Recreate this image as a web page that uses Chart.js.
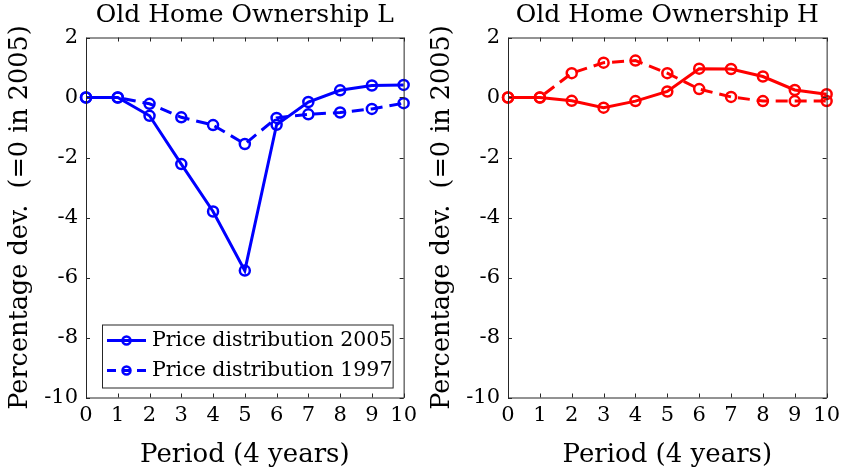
<!DOCTYPE html>
<html>
<head>
<meta charset="utf-8">
<script src="https://cdn.jsdelivr.net/npm/chart.js@4/dist/chart.umd.min.js"></script>
<style>
    html, body { margin: 0; padding: 0; background: #fff; }
    .panel { position: absolute; top: 0; height: 472px; }
    #left { left: 0; width: 422px; }
    #right { left: 422px; width: 423px; }
</style>
</head>
<body>
<div class="panel" id="left"><canvas id="chartL"></canvas></div>
<div class="panel" id="right"><canvas id="chartH"></canvas></div>
<script>
// ---------------------------------------------------------------------------
// data
// ---------------------------------------------------------------------------
const periods = ['0', '1', '2', '3', '4', '5', '6', '7', '8', '9', '10'];
const yTicks = [-10, -8, -6, -4, -2, 0, 2];

const lowPrice2005 = [0, 0, -0.61, -2.22, -3.80, -5.77, -0.91, -0.15, 0.24, 0.40, 0.42];
const lowPrice1997 = [0, 0, -0.21, -0.66, -0.92, -1.55, -0.68, -0.56, -0.50, -0.38, -0.19];
const highPrice2005 = [0, 0, -0.11, -0.34, -0.12, 0.20, 0.96, 0.95, 0.70, 0.25, 0.11];
const highPrice1997 = [0, 0, 0.81, 1.16, 1.23, 0.81, 0.28, 0.02, -0.12, -0.12, -0.12];

const label2005 = 'Price distribution 2005';
const label1997 = 'Price distribution 1997';

const FONT = '"DejaVu Serif", "Liberation Serif", serif';
const AXIS_COLOR = '#262626';
const DASH = [12, 7];

// ---------------------------------------------------------------------------
// matlab-style box with inward ticks
// ---------------------------------------------------------------------------
const boxFrame = {
    id: 'boxFrame',
    afterDatasetsDraw(chart) {
        const { ctx, chartArea: a, scales } = chart;
        const tl = 4;
        ctx.save();
        ctx.strokeStyle = AXIS_COLOR;
        ctx.lineWidth = 1;
        ctx.beginPath();
        ctx.rect(a.left + 0.5, a.top + 0.5, a.right - a.left, a.bottom - a.top);
        scales.x.ticks.forEach((t, i) => {
            const px = Math.round(scales.x.getPixelForTick(i)) + 0.5;
            ctx.moveTo(px, a.bottom); ctx.lineTo(px, a.bottom - tl);
            ctx.moveTo(px, a.top); ctx.lineTo(px, a.top + tl);
        });
        scales.y.ticks.forEach(t => {
            const py = Math.round(scales.y.getPixelForValue(t.value)) + 0.5;
            ctx.moveTo(a.left, py); ctx.lineTo(a.left + tl, py);
            ctx.moveTo(a.right, py); ctx.lineTo(a.right - tl, py);
        });
        ctx.stroke();
        ctx.restore();
    }
};

// legend drawn inside the plot, bottom left
const boxLegend = {
    id: 'boxLegend',
    afterDraw(chart, args, opts) {
        if (!opts.display) return;
        const { ctx, chartArea: a } = chart;
        const left = a.left + 16, right = a.right - 11;
        const bottom = a.bottom - 10, top = bottom - 63;
        ctx.save();
        ctx.fillStyle = '#fff';
        ctx.fillRect(left, top, right - left, bottom - top);
        ctx.strokeStyle = AXIS_COLOR;
        ctx.lineWidth = 1;
        ctx.strokeRect(left + 0.5, top + 0.5, right - left, bottom - top);

        chart.data.datasets.forEach((ds, i) => {
            const y = top + 16 + i * 30;
            const x0 = left + 5, x1 = left + 44, xm = (x0 + x1) / 2;
            ctx.strokeStyle = ds.borderColor;
            ctx.lineWidth = ds.borderWidth;
            ctx.setLineDash(ds.borderDash.length ? [9, 6] : []);
            ctx.beginPath();
            ctx.moveTo(x0, y); ctx.lineTo(x1, y);
            ctx.stroke();
            ctx.setLineDash([]);
            ctx.lineWidth = ds.pointBorderWidth;
            ctx.beginPath();
            ctx.arc(xm, y, ds.pointRadius - 1, 0, Math.PI * 2);
            ctx.stroke();
            ctx.fillStyle = '#000';
            ctx.font = '20.5px ' + FONT;
            ctx.textBaseline = 'middle';
            ctx.fillText(ds.label, left + 50, y);
        });
        ctx.restore();
    }
};

function series(label, values, color, dashed) {
    return {
        label: label,
        data: values,
        borderColor: color,
        backgroundColor: 'transparent',
        borderWidth: 3,
        borderDash: dashed ? DASH : [],
        pointRadius: 5,
        pointBorderWidth: 2.5,
        pointBackgroundColor: 'transparent',
        pointBorderColor: color,
        tension: 0,
        clip: false
    };
}

function makeChart(canvasId, title, datasets, showLegend) {
    return new Chart(document.getElementById(canvasId), {
        type: 'line',
        data: { labels: periods, datasets: datasets },
        plugins: [boxFrame, boxLegend],
        options: {
            responsive: true,
            maintainAspectRatio: false,
            animation: false,
            layout: { padding: { left: 0, right: 15, top: 0, bottom: 0 } },
            plugins: {
                legend: { display: false },
                tooltip: { enabled: false },
                title: {
                    display: true,
                    text: title,
                    fullSize: false,
                    color: '#000',
                    font: { family: FONT, size: 25, weight: 'normal' },
                    padding: { top: 0, bottom: 7.5 }
                },
                boxLegend: { display: showLegend }
            },
            scales: {
                x: {
                    type: 'category',
                    offset: false,
                    grid: { display: false, drawTicks: false },
                    border: { display: false },
                    ticks: {
                        color: '#000',
                        font: { family: FONT, size: 21 },
                        padding: 5,
                        maxRotation: 0,
                        autoSkip: false
                    },
                    title: {
                        display: true,
                        text: 'Period (4 years)',
                        color: '#000',
                        font: { family: FONT, size: 26 },
                        padding: { top: 0, bottom: 1.5 }
                    },
                    afterFit(scale) { scale.height = 74.5; }
                },
                y: {
                    min: -10,
                    max: 2,
                    grid: { display: false, drawTicks: false },
                    border: { display: false },
                    afterBuildTicks(scale) {
                        scale.ticks = yTicks.map(v => ({ value: v }));
                    },
                    ticks: {
                        color: '#000',
                        font: { family: FONT, size: 21 },
                        padding: 8
                    },
                    title: {
                        display: true,
                        text: 'Percentage dev.  (=0 in 2005)',
                        color: '#000',
                        font: { family: FONT, size: 25.5 },
                        padding: { top: 5, bottom: 0 }
                    },
                    afterFit(scale) { scale.width = 86; }
                }
            }
        }
    });
}

makeChart('chartL', 'Old Home Ownership L', [
    series(label2005, lowPrice2005, '#0000ff', false),
    series(label1997, lowPrice1997, '#0000ff', true)
], true);

makeChart('chartH', 'Old Home Ownership H', [
    series(label2005, highPrice2005, '#ff0000', false),
    series(label1997, highPrice1997, '#ff0000', true)
], false);
</script>
</body>
</html>
